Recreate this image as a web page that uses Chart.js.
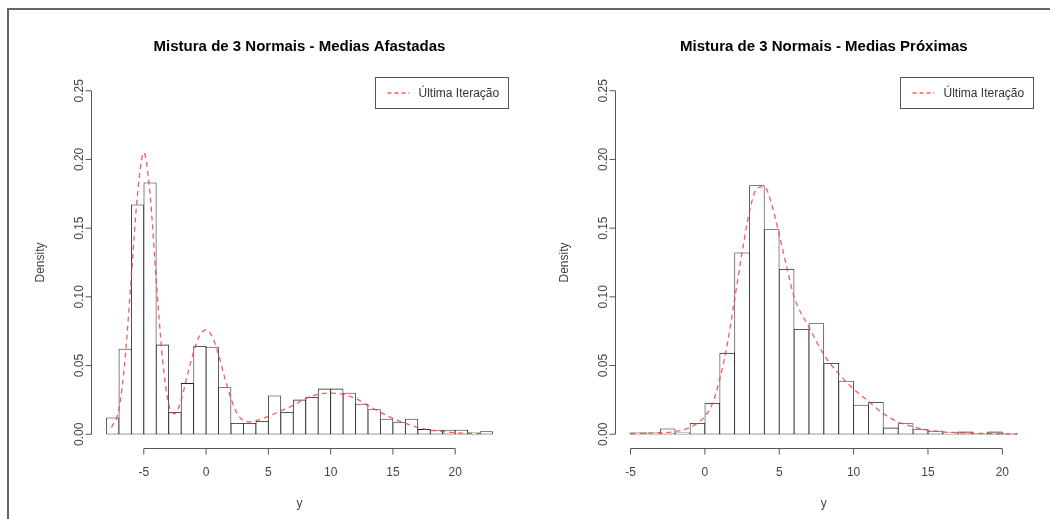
<!DOCTYPE html>
<html><head><meta charset="utf-8">
<script src="https://cdn.jsdelivr.net/npm/chart.js@4/dist/chart.umd.min.js"></script>
<style>
html,body{margin:0;padding:0;background:#fff;width:1050px;height:519px;overflow:hidden}
#frame{position:absolute;left:7px;top:8px;width:1050px;height:520px;border-left:2px solid #666;border-top:2px solid #666}
canvas{position:absolute;top:0}
#c1{left:0}
#c2{left:525px}
</style></head><body>
<div id="frame"></div>
<canvas id="c1" width="525" height="519"></canvas>
<canvas id="c2" width="525" height="519"></canvas>
<script>
// ---- Left panel: "Medias Afastadas" ----
const leftTitle = "Mistura de 3 Normais - Medias Afastadas";
const leftBins = [-8,-7,-6,-5,-4,-3,-2,-1,0,1,2,3,4,5,6,7,8,9,10,11,12,13,14,15,16,17,18,19,20,21,22];
const leftDensity = [0.012,0.062,0.167,0.183,0.065,0.016,0.037,0.064,0.0635,0.034,0.008,0.008,0.0095,0.028,0.016,0.025,0.027,0.033,0.033,0.030,0.022,0.018,0.011,0.0085,0.011,0.0035,0.003,0.003,0.003,0.001,0.002];
const leftCurveX = [-7.6,-7,-6.5,-6,-5.5,-5,-4.5,-4,-3.5,-3,-2.5,-2,-1.5,-1,-0.5,0,0.5,1,1.5,2,2.5,3,3.5,4,5,6,7,8,9,10,11,12,13,14,15,16,17,18,19,20,21,22];
const leftCurveY = [0.005,0.018,0.055,0.115,0.175,0.205,0.175,0.112,0.055,0.022,0.015,0.025,0.043,0.060,0.072,0.076,0.071,0.058,0.041,0.026,0.015,0.010,0.009,0.010,0.013,0.017,0.021,0.026,0.029,0.030,0.029,0.026,0.021,0.016,0.0115,0.008,0.005,0.003,0.002,0.0012,0.0007,0.0004];
const leftXTicks = [-5,0,5,10,15,20];

// ---- Right panel: "Medias Próximas" ----
const rightTitle = "Mistura de 3 Normais - Medias Próximas";
const rightBins = [-5,-4,-3,-2,-1,0,1,2,3,4,5,6,7,8,9,10,11,12,13,14,15,16,17,18,19,20];
const rightDensity = [0.001,0.001,0.004,0.001,0.008,0.0226,0.059,0.132,0.181,0.149,0.120,0.0764,0.0806,0.0517,0.0387,0.0212,0.0233,0.0046,0.0078,0.0034,0.0024,0.001,0.0017,0.0007,0.0017,0.0007];
const rightCurveX = [-5,-4,-3,-2,-1,0,0.5,1,1.5,2,2.5,3,3.5,4,4.5,5,5.5,6,7,8,9,10,11,12,13,14,15,16,17,18,19,20,21];
const rightCurveY = [0.0005,0.0007,0.001,0.002,0.005,0.013,0.022,0.040,0.065,0.098,0.132,0.162,0.179,0.180,0.167,0.145,0.122,0.100,0.078,0.058,0.044,0.033,0.024,0.015,0.009,0.0055,0.003,0.0018,0.0012,0.0008,0.0005,0.0003,0.0002];
const rightXTicks = [-5,0,5,10,15,20];

const yTicks = [0.00,0.05,0.10,0.15,0.20,0.25];
const yTickLabels = ["0.00","0.05","0.10","0.15","0.20","0.25"];
const legendText = "Última Iteração";
const xTitle = "y";
const yTitle = "Density";

const FONT = "'Liberation Sans', Arial, sans-serif";
const RED = "rgba(255,60,60,0.85)";

function rPlotPlugin(title, xTicks){
  return {
    id: 'rplot',
    afterDraw(chart){
      const ctx = chart.ctx, xs = chart.scales.x, ys = chart.scales.y, a = chart.chartArea;
      ctx.save();
      ctx.strokeStyle = '#555'; ctx.lineWidth = 1; ctx.setLineDash([]);
      // x axis
      const y0 = Math.round(a.bottom) + 0.5;
      const xa = xs.getPixelForValue(xTicks[0]), xb = xs.getPixelForValue(xTicks[xTicks.length-1]);
      ctx.beginPath(); ctx.moveTo(xa, y0); ctx.lineTo(xb, y0);
      xTicks.forEach(v => { const px = xs.getPixelForValue(v); ctx.moveTo(px, y0); ctx.lineTo(px, y0 + 6); });
      ctx.stroke();
      ctx.fillStyle = '#444'; ctx.font = '12px ' + FONT; ctx.textAlign = 'center'; ctx.textBaseline = 'middle';
      xTicks.forEach(v => ctx.fillText(String(v), xs.getPixelForValue(v), y0 + 24));
      ctx.fillText(xTitle, (a.left + a.right) / 2, y0 + 55);
      // y axis
      const x0 = Math.round(a.left) + 0.5;
      ctx.beginPath();
      ctx.moveTo(x0, ys.getPixelForValue(yTicks[0])); ctx.lineTo(x0, ys.getPixelForValue(yTicks[yTicks.length-1]));
      yTicks.forEach(v => { const py = ys.getPixelForValue(v); ctx.moveTo(x0, py); ctx.lineTo(x0 - 6, py); });
      ctx.stroke();
      yTicks.forEach((v, i) => {
        ctx.save(); ctx.translate(x0 - 12, ys.getPixelForValue(v)); ctx.rotate(-Math.PI/2);
        ctx.fillText(yTickLabels[i], 0, 0); ctx.restore();
      });
      ctx.save(); ctx.translate(x0 - 51, (a.top + a.bottom) / 2); ctx.rotate(-Math.PI/2);
      ctx.fillText(yTitle, 0, 0); ctx.restore();
      // title
      ctx.fillStyle = '#000'; ctx.font = 'bold 15px ' + FONT;
      ctx.fillText(title, (a.left + a.right) / 2, 47);
      // legend
      const bw = 133, bh = 31, bx = Math.round(a.right - bw) + 0.5, by = Math.round(a.top) + 0.5;
      ctx.strokeStyle = '#555'; ctx.strokeRect(bx, by, bw, bh);
      ctx.strokeStyle = RED; ctx.lineWidth = 1.3; ctx.setLineDash([4,3]);
      ctx.beginPath(); ctx.moveTo(bx + 12, by + bh/2); ctx.lineTo(bx + 34, by + bh/2); ctx.stroke();
      ctx.setLineDash([]);
      ctx.fillStyle = '#333'; ctx.font = '12px ' + FONT; ctx.textAlign = 'left';
      ctx.fillText(legendText, bx + 43, by + bh/2 + 0.5);
      ctx.restore();
    }
  };
}

function makeChart(id, title, bins, dens, cx, cy, xTicks, xmin, xmax, padLeft, padRight){
  return new Chart(document.getElementById(id), {
    type: 'bar',
    data: {
      datasets: [
        {
          type: 'line', order: 0,
          data: cx.map((x, i) => ({x: x, y: cy[i]})),
          borderColor: RED, borderWidth: 1.3, borderDash: [5,4],
          pointRadius: 0, fill: false, cubicInterpolationMode: 'monotone'
        },
        {
          type: 'bar', order: 1,
          data: bins.map((b, i) => ({x: b + 0.5, y: dens[i]})),
          backgroundColor: '#fff', borderColor: '#222',
          borderWidth: 0.8,
          borderSkipped: false,
          barPercentage: 1.0, categoryPercentage: 1.0
        }
      ]
    },
    options: {
      responsive: false, animation: false, devicePixelRatio: 1,
      layout: {padding: {left: padLeft, right: padRight, top: 77, bottom: 71}},
      plugins: {legend: {display: false}, tooltip: {enabled: false}, title: {display: false}},
      scales: {
        x: {type: 'linear', min: xmin, max: xmax, offset: false, display: false},
        y: {type: 'linear', min: -0.01, max: 0.26, display: false}
      }
    },
    plugins: [rPlotPlugin(title, xTicks)]
  });
}

makeChart('c1', leftTitle, leftBins, leftDensity, leftCurveX, leftCurveY, leftXTicks, -9.24, 24.24, 91, 17);
makeChart('c2', rightTitle, rightBins, rightDensity, rightCurveX, rightCurveY, rightXTicks, -6.04, 22.04, 90, 17.3);
</script>
</body></html>
